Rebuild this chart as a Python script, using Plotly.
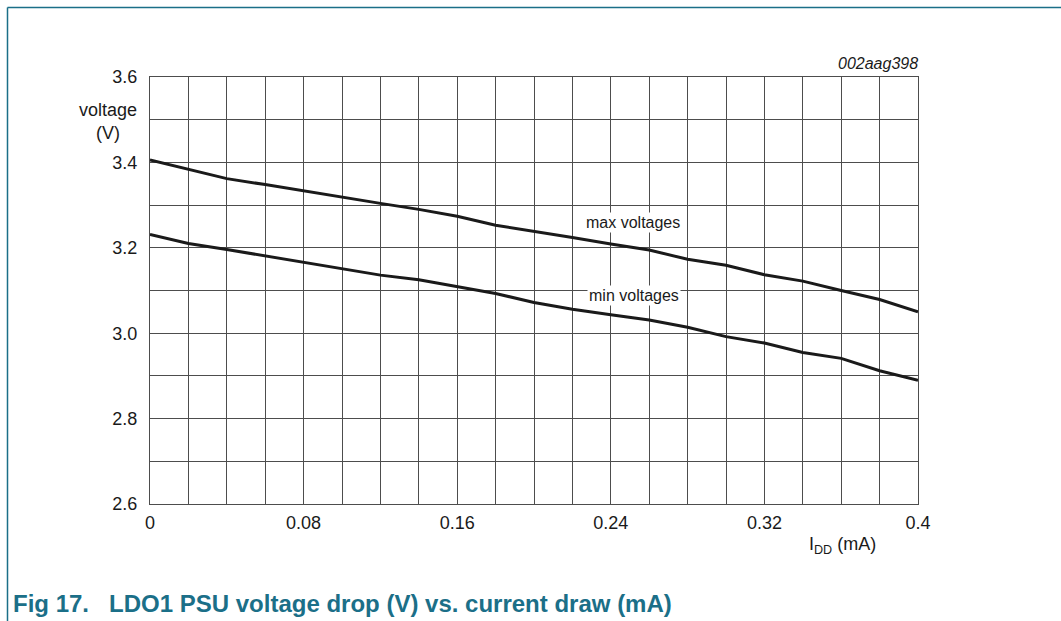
import plotly.graph_objects as go

current_ma = [0.00, 0.02, 0.04, 0.06, 0.08, 0.10, 0.12, 0.14, 0.16, 0.18, 0.20,
              0.22, 0.24, 0.26, 0.28, 0.30, 0.32, 0.34, 0.36, 0.38, 0.40]
max_voltages = [3.406, 3.384, 3.362, 3.348, 3.333, 3.318, 3.304, 3.290, 3.274, 3.253, 3.239,
                3.224, 3.209, 3.195, 3.173, 3.159, 3.137, 3.122, 3.100, 3.079, 3.050]
min_voltages = [3.231, 3.210, 3.196, 3.181, 3.166, 3.151, 3.136, 3.125, 3.109, 3.093, 3.072,
                3.056, 3.043, 3.031, 3.014, 2.992, 2.977, 2.955, 2.941, 2.912, 2.890]
x_ticks = [0, 0.08, 0.16, 0.24, 0.32, 0.4]
x_tick_labels = ["0", "0.08", "0.16", "0.24", "0.32", "0.4"]
y_ticks = [2.6, 2.8, 3.0, 3.2, 3.4, 3.6]
y_tick_labels = ["2.6", "2.8", "3.0", "3.2", "3.4", "3.6"]

W, H = 1061, 621
L, R, T, B = 150, 918, 77, 504
FONT = "Liberation Sans, Arial, sans-serif"
TEAL = "#1b6f88"
GRID = "#4d4d4d"

def px(xp):
    return (xp - L) / (R - L)

def py(yp):
    return (B - yp) / (B - T)

fig = go.Figure()
fig.add_trace(go.Scatter(x=current_ma, y=max_voltages, mode="lines",
                         line=dict(color="#1a1a1a", width=3), showlegend=False))
fig.add_trace(go.Scatter(x=current_ma, y=min_voltages, mode="lines",
                         line=dict(color="#1a1a1a", width=3), showlegend=False))

fig.update_layout(
    width=W, height=H,
    margin=dict(l=L, r=W - R, t=T, b=H - B, pad=0),
    paper_bgcolor="white", plot_bgcolor="white",
    font=dict(family=FONT, color="#1a1a1a", size=18),
    xaxis=dict(range=[0, 0.4], tickvals=x_ticks, ticktext=x_tick_labels,
               showgrid=True, gridcolor=GRID, gridwidth=1,
               minor=dict(dtick=0.02, tick0=0, showgrid=True, gridcolor=GRID, gridwidth=1),
               showline=True, linecolor=GRID, linewidth=1, mirror=True,
               ticks="", zeroline=False, tickfont=dict(size=18),
               ticklabelstandoff=2),
    yaxis=dict(range=[2.6, 3.6], tickvals=y_ticks, ticktext=y_tick_labels,
               showgrid=True, gridcolor=GRID, gridwidth=1,
               minor=dict(dtick=0.1, tick0=2.6, showgrid=True, gridcolor=GRID, gridwidth=1),
               showline=True, linecolor=GRID, linewidth=1, mirror=True,
               ticks="", zeroline=False, tickfont=dict(size=18),
               ticklabelstandoff=8),
)

annotations = [
    dict(text="voltage", x=px(108), y=py(110), xanchor="center", yanchor="middle",
         font=dict(size=18)),
    dict(text="(V)", x=px(108), y=py(133), xanchor="center", yanchor="middle",
         font=dict(size=18)),
    dict(text="<i>002aag398</i>", x=px(920), y=py(64), xanchor="right", yanchor="middle",
         font=dict(size=16)),
    dict(text="I<sub>DD</sub> (mA)", x=px(842), y=py(545), xanchor="center", yanchor="middle",
         font=dict(size=18)),
    dict(text="max voltages", x=px(633), y=py(222), xanchor="center", yanchor="middle",
         font=dict(size=16), bgcolor="white", borderpad=1),
    dict(text="min voltages", x=px(634), y=py(295), xanchor="center", yanchor="middle",
         font=dict(size=16), bgcolor="white", borderpad=1),
    dict(text="<b>Fig 17.   LDO1 PSU voltage drop (V) vs. current draw (mA)</b>",
         x=px(11), y=py(603), xanchor="left", yanchor="middle",
         font=dict(size=24, color=TEAL)),
]
for a in annotations:
    a.update(xref="paper", yref="paper", showarrow=False)
    fig.add_annotation(**a)

fig.add_shape(type="line", xref="paper", yref="paper",
              x0=px(7.5), x1=px(W + 5), y0=py(7.5), y1=py(7.5),
              line=dict(color=TEAL, width=1.5))
fig.add_shape(type="line", xref="paper", yref="paper",
              x0=px(7.5), x1=px(7.5), y0=py(7.5), y1=py(H + 5),
              line=dict(color=TEAL, width=1.5))

fig.write_html("out.html", config={"displayModeBar": False},
               post_script="document.body.style.margin='0';document.body.style.overflow='hidden';")
